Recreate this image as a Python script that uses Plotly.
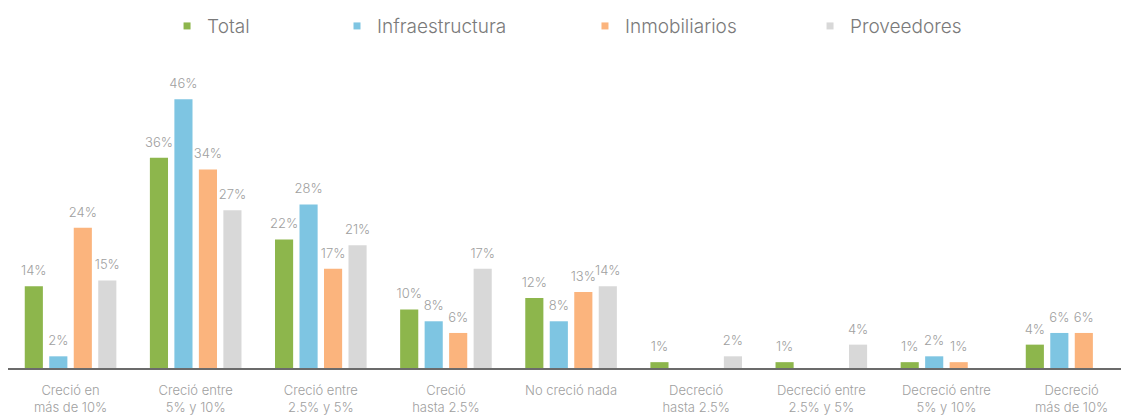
import plotly.graph_objects as go

# Survey answers: how much did the business grow over the period
categories = [
    "Creció en más de 10%",
    "Creció entre 5% y 10%",
    "Creció entre 2.5% y 5%",
    "Creció hasta 2.5%",
    "No creció nada",
    "Decreció hasta 2.5%",
    "Decreció entre 2.5% y 5%",
    "Decreció entre 5% y 10%",
    "Decreció más de 10%",
]
tick_labels = [
    "Creció en<br>más de 10%",
    "Creció entre<br>5% y 10%",
    "Creció entre<br>2.5% y 5%",
    "Creció<br>hasta 2.5%",
    "No creció nada",
    "Decreció<br>hasta 2.5%",
    "Decreció entre<br>2.5% y 5%",
    "Decreció entre<br>5% y 10%",
    "Decreció<br>más de 10%",
]

series_names = ["Total", "Infraestructura", "Inmobiliarios", "Proveedores"]
total = [14, 36, 22, 10, 12, 1, 1, 1, 4]
infraestructura = [2, 46, 28, 8, 8, None, None, 2, 6]
inmobiliarios = [24, 34, 17, 6, 13, None, None, 1, 6]
proveedores = [15, 27, 21, 17, 14, 2, 4, None, None]

series_values = [total, infraestructura, inmobiliarios, proveedores]
colors = ["#8db64c", "#7ec5e2", "#fbb47d", "#d8d8d8"]

FONT = "Inter"
LABEL_GRAY = "#a0a0a0"
BAR_GAP = 0.217

fig = go.Figure()

for i, (name, vals, col) in enumerate(zip(series_names, series_values, colors)):
    # bars
    fig.add_trace(go.Bar(
        x=categories, y=vals, name=name,
        marker=dict(color=col, line=dict(width=0)),
        offsetgroup=f"g{i}", showlegend=False, hoverinfo="skip",
    ))
    # value labels sitting above each bar
    fig.add_trace(go.Scatter(
        x=categories, y=vals, mode="markers+text",
        text=[f"{v}%" if v is not None else "" for v in vals],
        textposition="top center",
        textfont=dict(family=FONT, size=13, color=LABEL_GRAY, weight=300),
        marker=dict(size=11, color="rgba(0,0,0,0)"),
        offsetgroup=f"g{i}", showlegend=False, hoverinfo="skip",
        cliponaxis=False,
    ))

# legend entries (small square swatches), kept on hidden axes
legend_ids = ["legend", "legend2", "legend3", "legend4"]
for name, col, lg in zip(series_names, colors, legend_ids):
    fig.add_trace(go.Scatter(
        x=[None], y=[None], mode="markers", name=name,
        marker=dict(symbol="square", size=7, color=col),
        xaxis="x2", yaxis="y2", legend=lg, showlegend=True,
    ))

legend_x = [0.1429, 0.2956, 0.5184, 0.7206]
legend_style = dict(
    orientation="h", yanchor="top", xanchor="left", y=1.236,
    bgcolor="rgba(0,0,0,0)", itemwidth=30,
    font=dict(family=FONT, size=19, color="#7a7a7a", weight=300),
)

layout_legends = {}
for lg, lx in zip(legend_ids, legend_x):
    layout_legends[lg] = dict(legend_style, x=lx)

fig.update_layout(
    width=1121, height=417,
    margin=dict(l=8, r=0, t=76, b=49),
    paper_bgcolor="white", plot_bgcolor="white",
    barmode="group", bargap=BAR_GAP, bargroupgap=0.26,
    scattermode="group", scattergap=BAR_GAP,
    xaxis=dict(
        type="category", categoryorder="array", categoryarray=categories,
        range=[-0.5, 8.395],
        tickvals=categories, ticktext=tick_labels,
        showline=True, linecolor="#6b6b6b", linewidth=1.5,
        ticks="outside", ticklen=10, tickcolor="rgba(0,0,0,0)",
        tickfont=dict(family=FONT, size=13, color=LABEL_GRAY, weight=300),
        showgrid=False, zeroline=False, fixedrange=True,
    ),
    yaxis=dict(range=[0, 50], visible=False, fixedrange=True),
    xaxis2=dict(overlaying="x", visible=False),
    yaxis2=dict(overlaying="y", visible=False),
    **layout_legends,
)

fig.write_html("out.html")
